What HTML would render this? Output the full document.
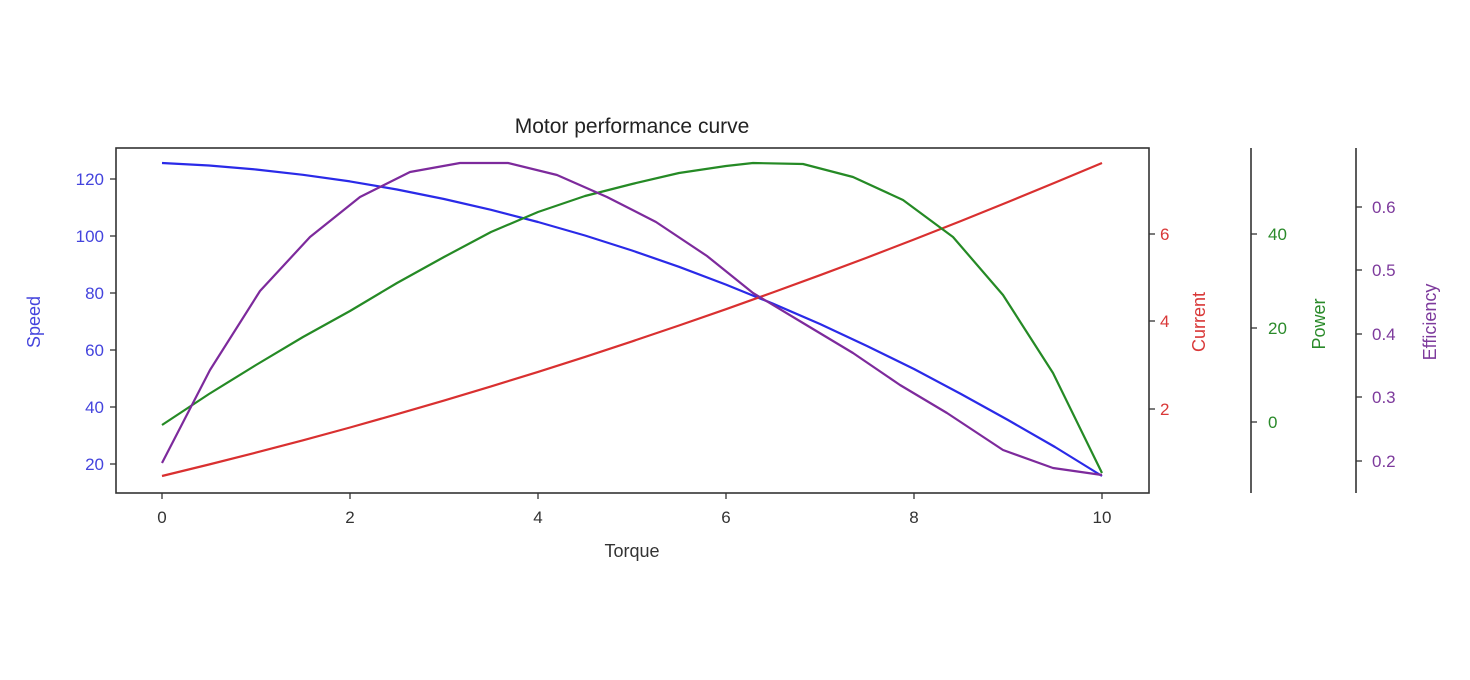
<!DOCTYPE html>
<html><head><meta charset="utf-8"><style>
html,body{margin:0;padding:0;background:#fff;}
svg{display:block;font-family:"Liberation Sans","DejaVu Sans",sans-serif;}
</style></head><body>
<svg width="1470" height="680" viewBox="0 0 1470 680" xmlns="http://www.w3.org/2000/svg">
<rect width="1470" height="680" fill="#fff"/>
<text x="632" y="133" font-size="21" text-anchor="middle" fill="#222">Motor performance curve</text>
<g fill="none" stroke-width="2.2" stroke-linejoin="round">
<polyline stroke="#2a2ae8" points="162,163 209,165.5 256,169.5 303,174.8 350,181.4 397,189.5 444,199 491,209.8 538,222 585,235.5 632,250.5 679,266.8 726,284.6 773,303.7 820,324 867,346 914,369 961,394 1008,420 1055,447 1102,476"/>
<polyline stroke="#d93030" points="162,476 209,464.5 256,452.6 303,440.3 350,427.5 397,414.2 444,400.6 491,386.4 538,371.9 585,356.9 632,341.4 679,325.5 726,309.2 773,292.4 820,275.2 867,257.6 914,239.5 961,221 1008,202 1055,182.6 1102,163"/>
<polyline stroke="#258a25" points="162,425 209,394 256,365 303,337 350,311 397,283 444,257 491,232 538,212 585,196 632,184 679,173 726,166 753,163 803,164 853,177 903,200 953,237 1003,295 1053,373 1102,473"/>
<polyline stroke="#7d2a9c" points="162,463 210,370 260,291 310,237 360,197 410,172 460,163 508,163 557,175 607,197 656,222 707,256 753,293 803,323 853,353 900,385 947,413 1003,450 1053,468 1102,475"/>
</g>
<rect x="116" y="148" width="1033" height="345" fill="none" stroke="#333" stroke-width="1.6"/>
<g stroke="#333" stroke-width="1.3">
<line x1="162" y1="493" x2="162" y2="499"/><line x1="350" y1="493" x2="350" y2="499"/><line x1="538" y1="493" x2="538" y2="499"/><line x1="726" y1="493" x2="726" y2="499"/><line x1="914" y1="493" x2="914" y2="499"/><line x1="1102" y1="493" x2="1102" y2="499"/>
</g>
<g font-size="17" fill="#333" text-anchor="middle">
<text x="162" y="523">0</text><text x="350" y="523">2</text><text x="538" y="523">4</text><text x="726" y="523">6</text><text x="914" y="523">8</text><text x="1102" y="523">10</text>
<text x="632" y="557" font-size="18">Torque</text>
</g>
<g stroke="#333" stroke-width="1.3">
<line x1="110" y1="179" x2="116" y2="179"/><line x1="110" y1="236" x2="116" y2="236"/><line x1="110" y1="293" x2="116" y2="293"/><line x1="110" y1="350" x2="116" y2="350"/><line x1="110" y1="407" x2="116" y2="407"/><line x1="110" y1="464" x2="116" y2="464"/>
</g>
<g font-size="17" fill="#4444dd" text-anchor="end">
<text x="104" y="185">120</text><text x="104" y="242">100</text><text x="104" y="299">80</text><text x="104" y="356">60</text><text x="104" y="413">40</text><text x="104" y="470">20</text>
</g>
<text transform="translate(40,322) rotate(-90)" font-size="18" fill="#4444dd" text-anchor="middle">Speed</text>
<g stroke="#333" stroke-width="1.3">
<line x1="1149" y1="234" x2="1155" y2="234"/><line x1="1149" y1="321" x2="1155" y2="321"/><line x1="1149" y1="409" x2="1155" y2="409"/>
</g>
<g font-size="17" fill="#d93838">
<text x="1160" y="240">6</text><text x="1160" y="327">4</text><text x="1160" y="415">2</text>
</g>
<text transform="translate(1205,322) rotate(-90)" font-size="18" fill="#d93838" text-anchor="middle">Current</text>
<line x1="1251" y1="148" x2="1251" y2="493" stroke="#333" stroke-width="1.6"/>
<g stroke="#333" stroke-width="1.3">
<line x1="1251" y1="234" x2="1257" y2="234"/><line x1="1251" y1="328" x2="1257" y2="328"/><line x1="1251" y1="422" x2="1257" y2="422"/>
</g>
<g font-size="17" fill="#2a8a2a">
<text x="1268" y="240">40</text><text x="1268" y="334">20</text><text x="1268" y="428">0</text>
</g>
<text transform="translate(1325,324) rotate(-90)" font-size="18" fill="#2a8a2a" text-anchor="middle">Power</text>
<line x1="1356" y1="148" x2="1356" y2="493" stroke="#333" stroke-width="1.6"/>
<g stroke="#333" stroke-width="1.3">
<line x1="1356" y1="207" x2="1362" y2="207"/><line x1="1356" y1="270" x2="1362" y2="270"/><line x1="1356" y1="334" x2="1362" y2="334"/><line x1="1356" y1="397" x2="1362" y2="397"/><line x1="1356" y1="461" x2="1362" y2="461"/>
</g>
<g font-size="17" fill="#7d3a9c">
<text x="1372" y="213">0.6</text><text x="1372" y="276">0.5</text><text x="1372" y="340">0.4</text><text x="1372" y="403">0.3</text><text x="1372" y="467">0.2</text>
</g>
<text transform="translate(1436,322) rotate(-90)" font-size="18" fill="#7d3a9c" text-anchor="middle">Efficiency</text>
</svg>
</body></html>
